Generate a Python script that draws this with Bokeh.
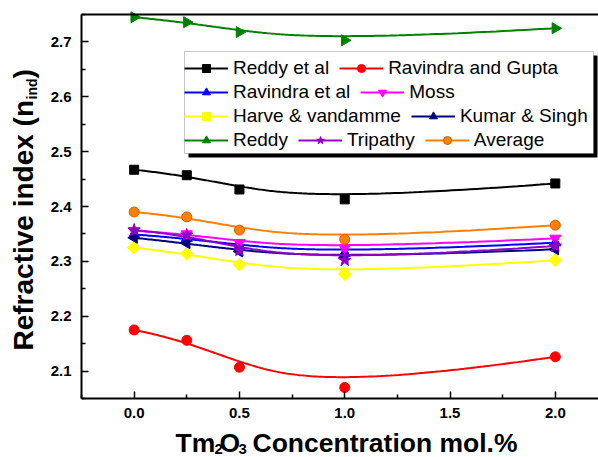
import numpy as np
from bokeh.plotting import figure
from bokeh.models import (Range1d, FixedTicker, PrintfTickFormatter, Legend, LegendItem,
                          Label, BoxAnnotation, LinearAxis)
from bokeh.embed import file_html
from bokeh.resources import INLINE

# ---- data ----
conc = [0.0, 0.25, 0.5, 1.0, 2.0]
reddy_et_al = [2.467, 2.457, 2.431, 2.413, 2.442]
ravindra_gupta = [2.175, 2.156, 2.107, 2.070, 2.126]
ravindra_et_al = [2.349, 2.342, 2.328, 2.315, 2.334]
moss = [2.356, 2.350, 2.334, 2.324, 2.342]
harve = [2.325, 2.314, 2.294, 2.277, 2.302]
kumar = [2.343, 2.333, 2.318, 2.306, 2.322]
reddy = [2.745, 2.736, 2.718, 2.703, 2.725]
tripathy = [2.357, 2.348, 2.320, 2.302, 2.328]
average = [2.390, 2.381, 2.357, 2.340, 2.366]

x_ticks = [0.0, 0.5, 1.0, 1.5, 2.0]
x_minor = [-0.25, 0.25, 0.75, 1.25, 1.75]
y_ticks = [2.1, 2.2, 2.3, 2.4, 2.5, 2.6, 2.7]
y_minor = [2.05, 2.15, 2.25, 2.35, 2.45, 2.55, 2.65, 2.75]
x_lim = (-0.25, 2.205)
y_lim = (2.05, 2.75)

FONT = "Liberation Sans"
W, H = 598, 457
# plot-area box inside the canvas (pixels)
PL, PR, PT, PB = 81, 598, 14, 398


def bspline(px, py, k=3, n=160):
    """Clamped cubic B-spline with the data points as control points (Origin B-spline line)."""
    P = np.column_stack([px, py]).astype(float)
    m = len(P)
    inner = np.linspace(0, 1, m - k + 1)
    t = np.concatenate([[0.0] * k, inner, [1.0] * k])
    out = []
    for u in np.linspace(0, 1, n):
        i = m - 1 if u >= 1 else int(np.searchsorted(t, u, side="right") - 1)
        d = [P[j + i - k].copy() for j in range(k + 1)]
        for r in range(1, k + 1):
            for j in range(k, r - 1, -1):
                den = t[j + 1 + i - r] - t[j + i - k]
                a = (u - t[j + i - k]) / den if den else 0.0
                d[j] = (1 - a) * d[j - 1] + a * d[j]
        out.append(d[k])
    out = np.array(out)
    return out[:, 0], out[:, 1]


# the frame covers the whole canvas; axes are placed at the plot-area edges
sx = (PR - PL) / (x_lim[1] - x_lim[0])
sy = (PB - PT) / (y_lim[1] - y_lim[0])
xr = Range1d(x_lim[0] - PL / sx, x_lim[1] + (W - PR) / sx)
yr = Range1d(y_lim[0] - (H - PB) / sy, y_lim[1] + PT / sy)

p = figure(width=W, height=H, x_range=xr, y_range=yr, output_backend="svg",
           toolbar_location=None, x_axis_type=None, y_axis_type=None, min_border=0)
p.grid.visible = False
p.outline_line_color = None
p.background_fill_color = "white"
p.border_fill_color = "white"


def style(ax):
    ax.axis_line_width = 2
    ax.axis_line_color = "black"
    ax.major_tick_in = 7
    ax.major_tick_out = 0
    ax.minor_tick_in = 4
    ax.minor_tick_out = 0
    ax.major_tick_line_width = 1.5
    ax.minor_tick_line_width = 1.5
    ax.major_label_text_font = FONT
    ax.major_label_text_font_style = "bold"
    ax.major_label_text_font_size = "15px"
    ax.major_label_text_color = "black"


xaxis = LinearAxis(fixed_location=y_lim[0], bounds=x_lim,
                   ticker=FixedTicker(ticks=x_ticks, minor_ticks=x_minor),
                   formatter=PrintfTickFormatter(format="%.1f"), major_label_standoff=9)
yaxis = LinearAxis(fixed_location=x_lim[0], bounds=y_lim,
                   ticker=FixedTicker(ticks=y_ticks, minor_ticks=y_minor),
                   formatter=PrintfTickFormatter(format="%.1f"), major_label_standoff=10)
style(xaxis)
style(yaxis)
topaxis = LinearAxis(fixed_location=y_lim[1], bounds=x_lim, ticker=FixedTicker(ticks=[]),
                     axis_line_width=2, major_tick_in=0, major_tick_out=0, minor_tick_in=0,
                     minor_tick_out=0, major_label_text_font_size="0px")
p.add_layout(xaxis, "below")
p.add_layout(yaxis, "left")
p.add_layout(topaxis, "above")

series = [
    ("Reddy et al", reddy_et_al, "black", "square", 9, 0.0),
    ("Ravindra and Gupta", ravindra_gupta, "#FF0000", "circle", 10, 0.0),
    ("Ravindra et al", ravindra_et_al, "#0000FF", "triangle", 11, 0.0),
    ("Moss", moss, "#FF00FF", "inverted_triangle", 11, 0.0),
    ("Harve & vandamme", harve, "#FFFF00", "square", 9, np.pi / 4),
    ("Kumar & Singh", kumar, "#000080", "triangle", 11, np.pi / 2),
    ("Reddy", reddy, "#008000", "triangle", 11, -np.pi / 2),
    ("Tripathy", tripathy, "#8F00C8", "star", 13, 0.0),
    ("Average", average, "#FF8000", "circle", 10, 0.0),
]

items = {}
for name, ys, col, mk, sz, ang in series:
    cx, cy = bspline(conc, ys)
    lr = p.line(cx, cy, line_color=col, line_width=2)
    line_col = "#D06000" if name == "Average" else col
    sr = p.scatter(conc, ys, marker=mk, size=sz, angle=ang, fill_color=col, line_color=line_col)
    items[name] = LegendItem(label=name, renderers=[lr, sr])

# legend frame with drop shadow (screen units, from the canvas bottom-left)
shadow = BoxAnnotation(left=188, right=597, top=H - 55, bottom=H - 157,
                       left_units="screen", right_units="screen", top_units="screen",
                       bottom_units="screen", fill_color="black", fill_alpha=1, line_color=None)
box = BoxAnnotation(left=184, right=593, top=H - 51, bottom=H - 153,
                    left_units="screen", right_units="screen", top_units="screen",
                    bottom_units="screen", fill_color="white", fill_alpha=1,
                    line_color="#404040", line_width=1)
p.add_layout(shadow)
p.add_layout(box)

rows = [["Reddy et al", "Ravindra and Gupta"],
        ["Ravindra et al", "Moss"],
        ["Harve & vandamme", "Kumar & Singh"],
        ["Reddy", "Tripathy", "Average"]]
row_bottom = [79.3, 103.0, 126.7, 150.5]
for names, rb in zip(rows, row_bottom):
    leg = Legend(items=[items[n] for n in names], orientation="horizontal", location=(184, H - rb),
                 glyph_width=44, glyph_height=20, label_height=20, label_standoff=5, spacing=10,
                 padding=0, margin=0, border_line_color=None, background_fill_alpha=0,
                 label_text_font=FONT, label_text_font_size="19px", label_text_color="black")
    p.add_layout(leg)


def lab(text, x, y, size, angle=0.0):
    p.add_layout(Label(x=x, y=y, x_units="screen", y_units="screen", text=text, angle=angle,
                       text_font=FONT, text_font_size=size, text_font_style="bold",
                       text_color="black", text_align="left", text_baseline="alphabetic"))


# y-axis title with subscript
lab("Refractive index (n", 23, H - 350, "28px", np.pi / 2)
lab("ind", 31, H - 99, "14px", np.pi / 2)
lab(")", 23, H - 78, "28px", np.pi / 2)

# x-axis title with subscripts
lab("Tm", 175, H - 442, "26.5px")
lab("2", 214, H - 448, "15px")
lab("O", 219, H - 442, "26.5px")
lab("3", 238, H - 448, "15px")
lab("Concentration mol.%", 252, H - 442, "26.5px")

open("out.html", "w").write(file_html(p, INLINE))
